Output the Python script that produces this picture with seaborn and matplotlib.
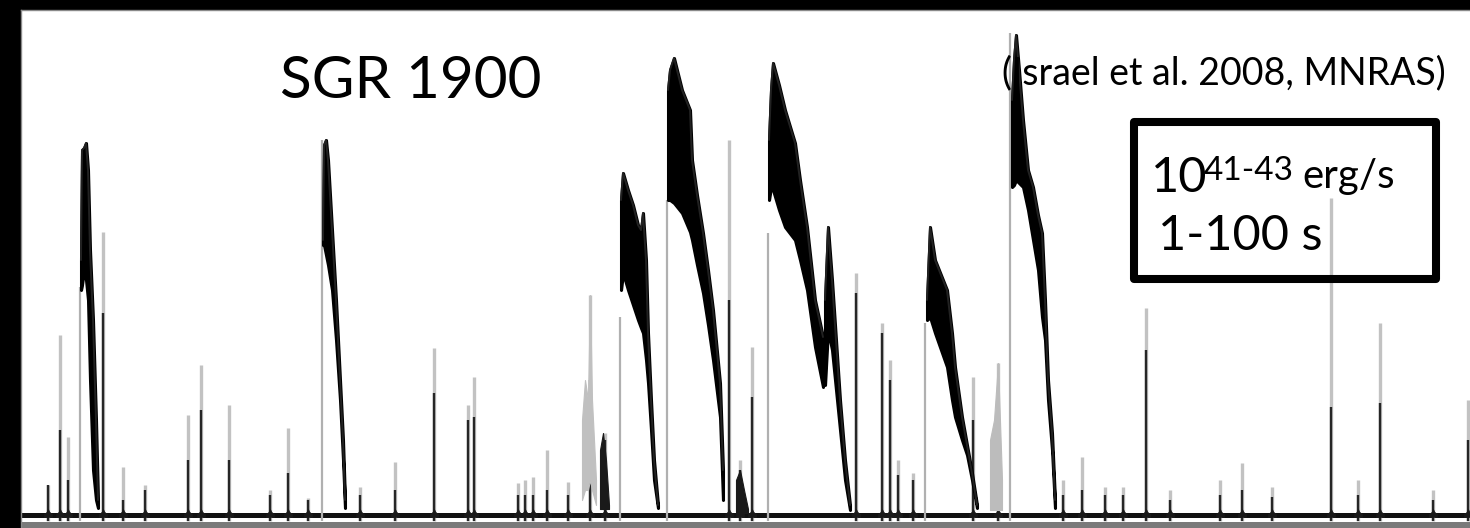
import matplotlib
matplotlib.use("Agg")
import matplotlib.pyplot as plt
import seaborn as sns
import pandas as pd
from matplotlib.patches import Rectangle

# ---------------- data (time in s, count rate in arbitrary units) ----------------
baseline_time = [21, 1470]
baseline_rate = [6, 6]

# narrow spikes: time, peak rate, rate of the dark core
spike_time = [48, 60, 68, 103, 123, 145, 188, 201, 229, 270, 288, 308, 360, 395, 434,
              468, 474, 518, 525, 533, 547, 568, 590, 605, 729, 740, 752, 856, 882, 890,
              898, 913, 973, 998, 1063, 1082, 1105, 1123, 1146, 1170, 1220, 1242, 1272,
              1331, 1358, 1380, 1433, 1468]
spike_peak = [36, 186, 84, 289, 54, 36, 106, 156, 116, 31, 93, 23, 34, 59, 173,
              116, 144, 38, 41, 44, 71, 39, 226, 88, 381, 61, 174, 248, 198, 161,
              61, 48, 144, 158, 41, 64, 34, 34, 213, 31, 41, 58, 34,
              323, 41, 198, 31, 121]
spike_core = [36, 91, 41, 208, 21, 31, 61, 111, 61, 26, 48, 21, 26, 31, 128,
              101, 104, 26, 26, 26, 31, 26, 141, 81, 221, 51, 124, 228, 188, 141,
              46, 41, 101, 101, 26, 31, 26, 26, 171, 21, 26, 31, 24,
              114, 26, 118, 21, 81]

# fast-rise / slow-decay bursts: time, upper and lower envelope of the noisy curve
b1_time = [81, 82, 84, 86, 88, 90, 93, 96, 98]
b1_up = [261, 371, 373, 378, 351, 271, 201, 101, 21]
b1_lo = [231, 236, 251, 241, 221, 141, 51, 21, 13]

b2_time = [323, 324, 326, 328, 332, 336, 340, 343, 345]
b2_up = [281, 376, 381, 361, 291, 221, 141, 81, 21]
b2_lo = [276, 276, 266, 256, 231, 181, 121, 61, 13]

b3_time = [621, 623, 628, 633, 638, 641, 643, 646, 648, 651, 654, 658]
b3_up = [321, 348, 331, 316, 296, 291, 308, 261, 188, 121, 61, 16]
b3_lo = [231, 248, 231, 216, 201, 193, 188, 161, 138, 91, 41, 13]

b4_time = [668, 670, 674, 682, 690, 692, 697, 703, 708, 713, 720, 723]
b4_up = [431, 451, 463, 431, 411, 361, 326, 288, 251, 211, 138, 51]
b4_lo = [321, 321, 318, 308, 289, 281, 256, 228, 196, 161, 104, 21]

b5_time = [769, 771, 773, 779, 785, 795, 800, 807, 815, 823]
b5_up = [381, 431, 458, 436, 411, 378, 341, 294, 221, 184]
b5_lo = [321, 334, 331, 311, 294, 281, 261, 231, 174, 134]

b6_time = [825, 828, 832, 836, 840, 845, 850]
b6_up = [221, 294, 241, 181, 121, 61, 16]
b6_lo = [136, 191, 171, 131, 91, 41, 11]

b7_time = [927, 930, 935, 941, 947, 952, 955, 962, 967, 972, 977]
b7_up = [221, 294, 261, 246, 231, 188, 154, 104, 76, 48, 16]
b7_lo = [201, 204, 188, 171, 154, 121, 104, 81, 66, 41, 13]

b8_time = [1012, 1014, 1016, 1019, 1023, 1028, 1033, 1038, 1042, 1045, 1048, 1052, 1055]
b8_up = [421, 461, 486, 451, 401, 351, 334, 306, 288, 221, 141, 88, 21]
b8_lo = [334, 336, 341, 338, 334, 311, 281, 251, 204, 181, 121, 71, 13]

# small blended clusters (grey / dark)
c1_time = [582, 585, 588, 590, 592, 596]
c1_up = [101, 141, 121, 226, 121, 41]
c1_lo = [21, 31, 31, 41, 31, 16]
c2_time = [600, 603, 606, 609]
c2_up = [71, 88, 61, 16]
c2_lo = [12, 12, 12, 12]
c3_time = [736, 740, 744, 748]
c3_up = [41, 51, 31, 12]
c3_lo = [8, 8, 8, 8]
c4_time = [990, 994, 998, 1002]
c4_up = [81, 101, 158, 41]
c4_lo = [11, 11, 11, 11]

# steep rise edges of the bursts
rise_time = [80, 322, 620, 667, 768, 925, 1010]
rise_peak = [234, 381, 204, 321, 288, 198, 488]

title_text = "SGR 1900"
ref_text = "(Israel et al. 2008, MNRAS)"
lum_base, lum_exp, lum_unit = "10", "41-43", "erg/s"
dur_text = "1-100 s"

# ---------------- drawing ----------------
sns.set_theme(style="white")
plt.rcParams['font.family'] = ['Lato', 'DejaVu Sans']

W, H = 1470, 528
fig = plt.figure(figsize=(W / 100, H / 100), dpi=100, facecolor="black")
ax = fig.add_axes([21 / W, 0, 1 - 21 / W, 518 / H])
ax.set_facecolor("white")
ax.set_xlim(21, 1470)
ax.set_ylim(-7, 511)
ax.set_xticks([])
ax.set_yticks([])
for side, sp in ax.spines.items():
    sp.set_visible(side in ("left", "top"))
    sp.set_color("#8a8a8a")
    sp.set_linewidth(1.0)

# bottom axis band
ax.axhspan(-7, -1, color="#7a7a7a", lw=0, zorder=1)

# baseline
sns.lineplot(x=baseline_time, y=baseline_rate, ax=ax, color="#111111", lw=3.6, zorder=2)

# spikes
for t, p, c in zip(spike_time, spike_peak, spike_core):
    ax.vlines(t, 0, p, color="#c2c2c2", lw=2.4, zorder=3)
    ax.vlines(t, 0, c, color="#262626", lw=1.7, zorder=4)
    foot = min(c, 12)
    ax.fill_between([t - 4, t - 1.5, t, t + 1.5, t + 4], [4] * 5,
                    [7, 9, foot, 9, 7], color="#1a1a1a", lw=0.5, zorder=4)

# rise edges
for t, p in zip(rise_time, rise_peak):
    ax.vlines(t, 0, p, color="#b0b0b0", lw=1.6, zorder=3)

# grey / dark clusters
for tt, up, lo, col in [(c1_time, c1_up, c1_lo, "#c0c0c0"), (c2_time, c2_up, c2_lo, "#1a1a1a"),
                        (c3_time, c3_up, c3_lo, "#1a1a1a"), (c4_time, c4_up, c4_lo, "#bcbcbc")]:
    ax.fill_between(tt, lo, up, color=col, lw=0.8, zorder=4)

# bursts
bursts = [(b1_time, b1_up, b1_lo), (b2_time, b2_up, b2_lo), (b3_time, b3_up, b3_lo),
          (b4_time, b4_up, b4_lo), (b5_time, b5_up, b5_lo), (b6_time, b6_up, b6_lo),
          (b7_time, b7_up, b7_lo), (b8_time, b8_up, b8_lo)]
for tt, up, lo in bursts:
    ax.fill_between(tt, lo, up, color="black", lw=2.2, edgecolor="black", zorder=5)
    df = pd.DataFrame({"t": tt, "r": up})
    sns.lineplot(data=df, x="t", y="r", ax=ax, color="#222222", lw=1.4, zorder=5)

ax.set_xlabel("")
ax.set_ylabel("")

# ---------------- text ----------------
def fx(px):
    return px / W

def fy(py):
    return 1 - py / H

fig.text(fx(280), fy(98), title_text, fontsize=42, color="black", va="baseline", ha="left")
fig.text(fx(1002), fy(84), ref_text, fontsize=27, color="black", va="baseline", ha="left")
fig.text(fx(1151), fy(192), lum_base, fontsize=35, color="black", va="baseline", ha="left")
fig.text(fx(1204), fy(180), lum_exp, fontsize=24, color="black", va="baseline", ha="left")
fig.text(fx(1302), fy(188), lum_unit, fontsize=29, color="black", va="baseline", ha="left")
fig.text(fx(1158), fy(250), dur_text, fontsize=35, color="black", va="baseline", ha="left")

box = Rectangle((fx(1134), fy(279)), fx(1436) - fx(1134), fy(122) - fy(279),
                transform=fig.transFigure, fill=False, edgecolor="black", lw=5.8,
                joinstyle="round", zorder=10)
fig.patches.append(box)

fig.savefig("out.png", dpi=100, facecolor="black")
